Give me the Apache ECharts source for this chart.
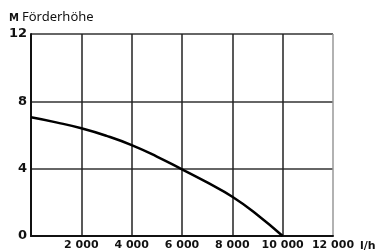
<!DOCTYPE html>
<html>
<head>
<meta charset="utf-8">
<script src="https://cdn.jsdelivr.net/npm/echarts@6/dist/echarts.min.js"></script>
<style>
  html, body { margin: 0; padding: 0; background: #fff; }
  #chart { width: 387px; height: 252px; }
</style>
</head>
<body>
<div id="chart"></div>
<script>
// flow rate (l/h) and head (m)
const flow = [0, 1000, 2000, 3000, 4000, 5000, 6000, 7000, 8000, 9000, 10000]
const head = [7.05, 6.75, 6.4, 5.95, 5.4, 4.72, 3.96, 3.18, 2.33, 1.25, 0]
const yTicks = [0, 4, 8, 12]
const xTicks = [0, 2000, 4000, 6000, 8000, 10000, 12000]

const fmtFlow = v => (v === 0 ? '' : String(v).replace(/\B(?=(\d{3})+(?!\d))/g, ' '))

const chart = echarts.init(document.getElementById('chart'))

chart.setOption({
  animation: false,
  backgroundColor: '#fff',
  title: {
    left: 4,
    top: 3,
    text: '{a|M}{b|Förderhöhe}',
    textStyle: {
      fontWeight: 'normal',
      rich: {
        a: { fontFamily: 'DejaVu Sans', fontWeight: 'bold', fontSize: 10, color: '#111',
             lineHeight: 16, verticalAlign: 'bottom', padding: [0, 3, 1, 0] },
        b: { fontFamily: 'Noto Sans', fontWeight: 'normal', fontSize: 13, color: '#111',
             lineHeight: 16, verticalAlign: 'bottom' },
      },
    },
  },
  grid: { left: 31, right: 54, top: 34, bottom: 12, containLabel: false },
  xAxis: {
    type: 'value',
    min: xTicks[0],
    max: xTicks[xTicks.length - 1],
    interval: 2000,
    name: 'l/h',
    nameLocation: 'end',
    nameGap: 20,
    nameTextStyle: {
      fontFamily: 'DejaVu Sans', fontWeight: 'bold', fontSize: 11, color: '#111',
      verticalAlign: 'top', padding: [5, 0, 0, 0],
    },
    axisLine: { lineStyle: { color: '#111', width: 2 } },
    axisTick: { show: false },
    axisLabel: {
      margin: 4,
      fontFamily: 'DejaVu Sans', fontWeight: 'bold', fontSize: 11, color: '#111',
      formatter: fmtFlow,
    },
    splitLine: {
      lineStyle: {
        color: ['#222', '#222', '#222', '#222', '#222', '#222', '#999'],
        width: 1.5,
      },
    },
  },
  yAxis: {
    type: 'value',
    min: yTicks[0],
    max: yTicks[yTicks.length - 1],
    interval: 4,
    axisLine: { show: true, lineStyle: { color: '#111', width: 2 } },
    axisTick: { show: false },
    axisLabel: {
      margin: 4,
      fontFamily: 'DejaVu Sans', fontWeight: 'bold', fontSize: 13, color: '#111',
    },
    splitLine: { lineStyle: { color: '#333', width: 1.5 } },
  },
  series: [
    {
      type: 'line',
      data: flow.map((f, i) => [f, head[i]]),
      smooth: true,
      showSymbol: false,
      lineStyle: { color: '#000', width: 2.5 },
    },
  ],
})
</script>
</body>
</html>
